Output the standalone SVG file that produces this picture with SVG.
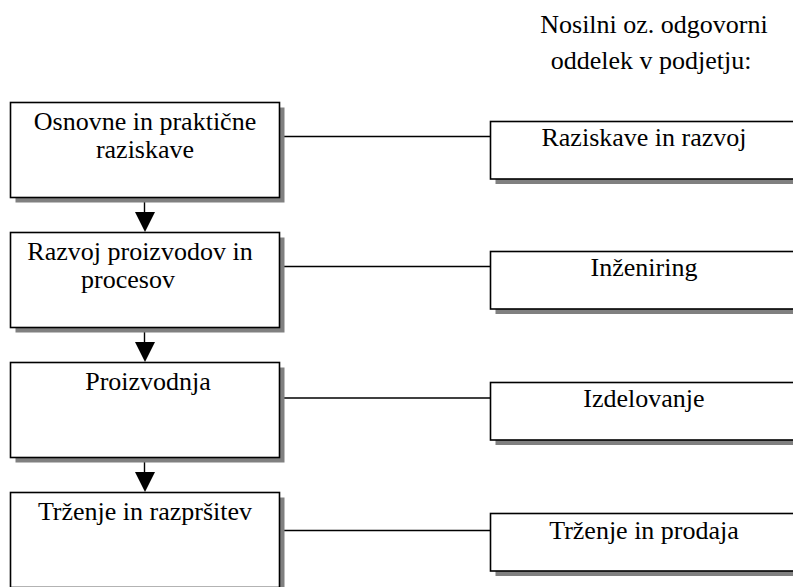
<svg xmlns="http://www.w3.org/2000/svg" width="793" height="587" viewBox="0 0 793 587">
  <style>
    .shadow { fill: #808080; }
    .box { fill: #ffffff; stroke: #000000; stroke-width: 1.6; }
    .lbl { font-family: "Liberation Serif", "Times New Roman", serif; font-size: 26px; fill: #000000; text-anchor: middle; }
    .link { stroke: #000000; stroke-width: 1.4; fill: none; }
    .head { fill: #000000; }
  </style>

  <!-- heading above the department column -->
  <g id="heading">
    <text class="lbl" x="654" y="33">Nosilni oz. odgovorni</text>
    <text class="lbl" x="651" y="69">oddelek v podjetju:</text>
  </g>

  <!-- connectors: horizontal links and downward arrows -->
  <g id="connectors">
    <line class="link" x1="279" y1="136.5" x2="491" y2="136.5"/>
    <line class="link" x1="279" y1="266.5" x2="491" y2="266.5"/>
    <line class="link" x1="279" y1="398" x2="491" y2="398"/>
    <line class="link" x1="279" y1="530.5" x2="491" y2="530.5"/>

    <line class="link" x1="144.5" y1="197" x2="144.5" y2="214"/>
    <polygon class="head" points="135,212 155,212 145,232"/>
    <line class="link" x1="144.5" y1="327" x2="144.5" y2="344"/>
    <polygon class="head" points="135,342 155,342 145,362"/>
    <line class="link" x1="144.5" y1="457" x2="144.5" y2="474"/>
    <polygon class="head" points="135,472 155,472 145,492"/>
  </g>

  <!-- stage boxes (left column) -->
  <g id="stage-research">
    <rect class="shadow" x="15.5" y="107.5" width="269" height="95"/>
    <rect class="box" x="10.5" y="102.5" width="269" height="95"/>
    <text class="lbl" x="145" y="130">Osnovne in praktične</text>
    <text class="lbl" x="145" y="158">raziskave</text>
  </g>
  <g id="stage-development">
    <rect class="shadow" x="15.5" y="237.5" width="269" height="95"/>
    <rect class="box" x="10.5" y="232.5" width="269" height="95"/>
    <text class="lbl" x="140" y="260">Razvoj proizvodov in</text>
    <text class="lbl" x="128" y="288">procesov</text>
  </g>
  <g id="stage-production">
    <rect class="shadow" x="15.5" y="367.5" width="269" height="95"/>
    <rect class="box" x="10.5" y="362.5" width="269" height="95"/>
    <text class="lbl" x="148" y="390">Proizvodnja</text>
  </g>
  <g id="stage-marketing">
    <rect class="shadow" x="15.5" y="497.5" width="269" height="95"/>
    <rect class="box" x="10.5" y="492.5" width="269" height="95"/>
    <text class="lbl" x="145" y="520">Trženje in razpršitev</text>
  </g>

  <!-- department boxes (right column) -->
  <g id="dept-rnd">
    <rect class="shadow" x="495.5" y="126.5" width="310" height="57.5"/>
    <rect class="box" x="490.5" y="121.5" width="310" height="57.5"/>
    <text class="lbl" x="644" y="146">Raziskave in razvoj</text>
  </g>
  <g id="dept-engineering">
    <rect class="shadow" x="495.5" y="256.5" width="310" height="57.5"/>
    <rect class="box" x="490.5" y="251.5" width="310" height="57.5"/>
    <text class="lbl" x="644" y="276">Inženiring</text>
  </g>
  <g id="dept-manufacturing">
    <rect class="shadow" x="495.5" y="387.5" width="310" height="57.5"/>
    <rect class="box" x="490.5" y="382.5" width="310" height="57.5"/>
    <text class="lbl" x="644" y="407">Izdelovanje</text>
  </g>
  <g id="dept-sales">
    <rect class="shadow" x="495.5" y="518.5" width="310" height="57.5"/>
    <rect class="box" x="490.5" y="513.5" width="310" height="57.5"/>
    <text class="lbl" x="644" y="539">Trženje in prodaja</text>
  </g>
</svg>
